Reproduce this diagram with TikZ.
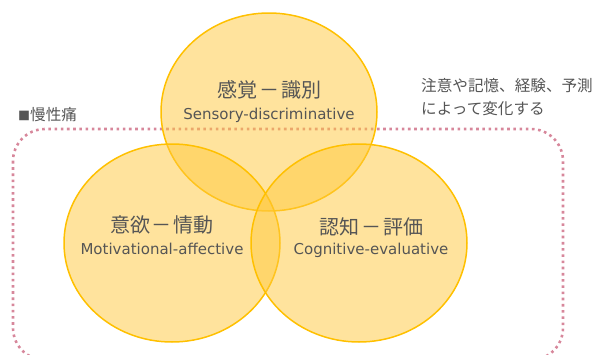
\documentclass[tikz,border=0pt]{standalone}
\usepackage{fontspec}
\setmainfont{DejaVu Sans}
\newfontfamily\jpfont{Noto Sans CJK JP}
\usetikzlibrary{shapes.geometric}

\definecolor{ringgold}{RGB}{255,192,0}
\definecolor{ringfill}{RGB}{255,200,60}
\definecolor{dotpink}{RGB}{215,135,155}
\definecolor{textgray}{RGB}{85,85,85}

\tikzstyle{ring} = [ellipse, minimum width=216pt, minimum height=198pt, inner sep=0pt, draw=ringgold, line width=1.5pt, fill=ringfill, fill opacity=0.5]
\tikzstyle{title} = [font=\jpfont\fontsize{20}{24}\selectfont, text=textgray, inner sep=0pt]
\tikzstyle{subtitle} = [font=\fontsize{15}{18}\selectfont, text=textgray, inner sep=0pt]
\tikzstyle{note} = [font=\jpfont\fontsize{15.6}{23}\selectfont, text=textgray, inner sep=0pt]
\tikzstyle{boundary} = [draw=dotpink, line width=2.6pt, dash pattern=on 2.6pt off 3.6pt, rounded corners=32pt]

\newcommand{\dash}{\hspace{2pt}－\hspace{2pt}}

\begin{document}
\begin{tikzpicture}[x=1pt, y=-1pt]

    \useasboundingbox (0,0) rectangle (598,354);
    \clip (0,0) rectangle (598,354);

    % chronic pain area
    \draw [boundary] (13,129) rectangle (563,360);

    % the three rings
    \node (sensory) [ring] at (269,112) {};
    \node (motive) [ring] at (172,243) {};
    \node (cognitive) [ring] at (359,243) {};

    \node (sensoryJa) [title] at (269,90) {感覚\dash 識別};
    \node (sensoryEn) [subtitle] at (269,115) {Sensory-discriminative};
    \node (motiveJa) [title] at (162,225) {意欲\dash 情動};
    \node (motiveEn) [subtitle] at (162,249) {Motivational-affective};
    \node (cognitiveJa) [title] at (371,227) {認知\dash 評価};
    \node (cognitiveEn) [subtitle] at (371,250) {Cognitive-evaluative};

    \node (chronic) [note, anchor=west] at (18,115) {{\fontsize{12}{12}\selectfont ■}慢性痛};
    \node (modulation) [note, anchor=west] at (421,86) {注意や記憶、経験、予測};
    \node (modulation2) [note, anchor=west] at (421,109) {によって変化する};

\end{tikzpicture}
\end{document}
